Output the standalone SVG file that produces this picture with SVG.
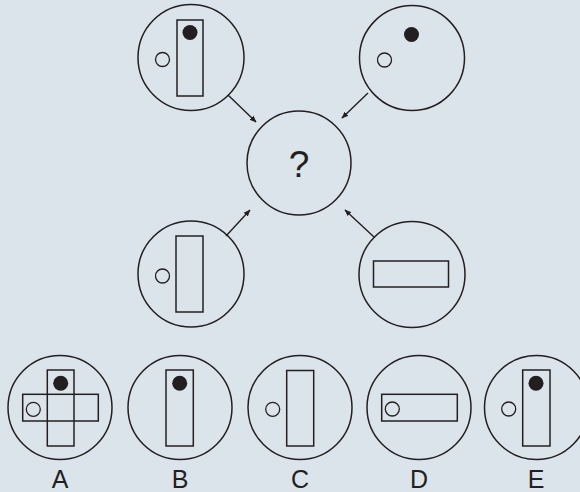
<svg xmlns="http://www.w3.org/2000/svg" width="580" height="492" viewBox="0 0 580 492">
<defs>
<style>
.ln{fill:none;stroke:#231f20;stroke-width:1.5}
.dot{fill:#231f20;stroke:none}
.oc{fill:none;stroke:#231f20;stroke-width:1.3}
.lbl{font-family:"Liberation Sans",Arial,sans-serif;font-size:25px;fill:#231f20;text-anchor:middle}
.con{stroke:#231f20;stroke-width:1.4;fill:none;marker-end:url(#ah)}
</style>
<marker id="ah" viewBox="0 0 10 10" refX="9" refY="5" markerWidth="7" markerHeight="7" markerUnits="userSpaceOnUse" orient="auto">
<path d="M0,1 L10,5 L0,9 Z" fill="#231f20"/>
</marker>
</defs>
<rect width="580" height="492" fill="#dce4eb"/>
<g id="connectors">
<line class="con" x1="228" y1="95" x2="256" y2="122"/>
<line class="con" x1="368" y1="93" x2="342" y2="118"/>
<line class="con" x1="226" y1="236" x2="250" y2="210"/>
<line class="con" x1="374" y1="237" x2="345" y2="210"/>
</g>
<g id="n1">
<circle class="ln" cx="191" cy="57.5" r="53"/>
<rect class="ln" x="177" y="20" width="26" height="76"/>
<circle class="dot" cx="190" cy="32.5" r="7.5"/>
<circle class="oc" cx="162.5" cy="59.5" r="7"/>
</g>
<g id="n2">
<circle class="ln" cx="412" cy="58" r="52.5"/>
<circle class="dot" cx="411.5" cy="34.5" r="7.5"/>
<circle class="oc" cx="384.5" cy="60" r="7"/>
</g>
<g id="center">
<circle class="ln" cx="299" cy="163" r="52"/>
<text class="lbl" x="299" y="176.5" style="font-size:37px">?</text>
</g>
<g id="n3">
<circle class="ln" cx="191" cy="274" r="53"/>
<rect class="ln" x="176" y="236" width="27" height="76"/>
<circle class="oc" cx="162.5" cy="276" r="7"/>
</g>
<g id="n4">
<circle class="ln" cx="412" cy="274.5" r="53"/>
<rect class="ln" x="373.5" y="261" width="75" height="26"/>
</g>
<g id="optA">
<circle class="ln" cx="60" cy="407.5" r="52"/>
<rect class="ln" x="47.3" y="370" width="26.7" height="76"/>
<rect class="ln" x="22.7" y="394.3" width="75.6" height="26.7"/>
<circle class="dot" cx="60.7" cy="383.3" r="7.5"/>
<circle class="oc" cx="33.3" cy="409.3" r="7"/>
<text class="lbl" x="60" y="488">A</text>
</g>
<g id="optB">
<circle class="ln" cx="180" cy="407.5" r="52"/>
<rect class="ln" x="166" y="370" width="27.3" height="76"/>
<circle class="dot" cx="179.7" cy="383.3" r="7.5"/>
<text class="lbl" x="180" y="488">B</text>
</g>
<g id="optC">
<circle class="ln" cx="300" cy="407.5" r="52"/>
<rect class="ln" x="286.7" y="370.5" width="27" height="75.5"/>
<circle class="oc" cx="272.7" cy="409.3" r="7"/>
<text class="lbl" x="300" y="488">C</text>
</g>
<g id="optD">
<circle class="ln" cx="419" cy="407.5" r="52"/>
<rect class="ln" x="381.7" y="394.3" width="75.6" height="26.7"/>
<circle class="oc" cx="392.3" cy="409" r="7"/>
<text class="lbl" x="419" y="488">D</text>
</g>
<g id="optE">
<circle class="ln" cx="536.5" cy="407.5" r="52"/>
<rect class="ln" x="522.7" y="370" width="27.3" height="76"/>
<circle class="dot" cx="536" cy="383.3" r="7.5"/>
<circle class="oc" cx="508.7" cy="409" r="7"/>
<text class="lbl" x="536" y="488">E</text>
</g>
</svg>
